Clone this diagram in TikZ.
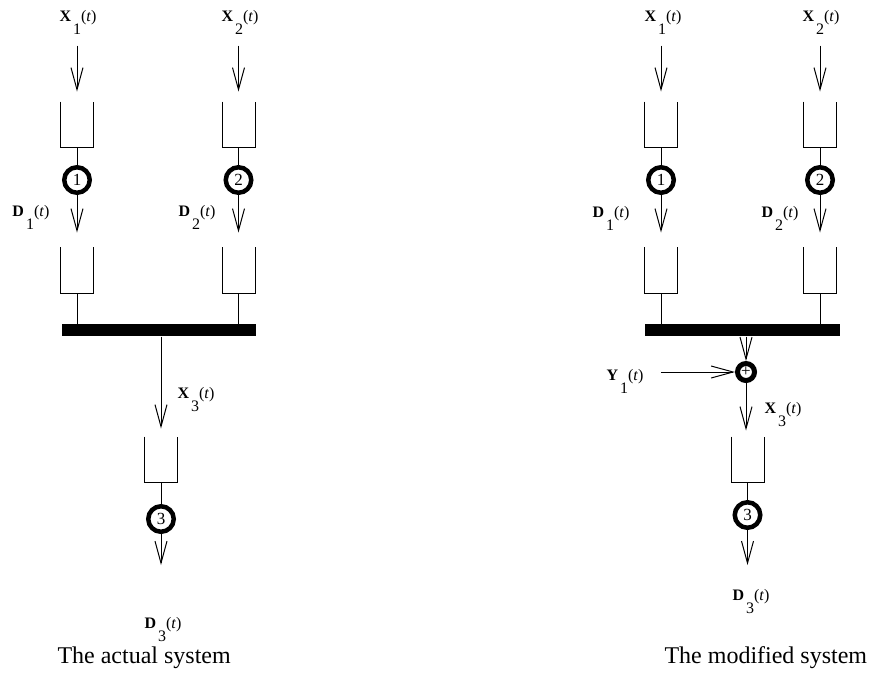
\documentclass[tikz,border=0pt]{standalone}
\usepackage{fontspec}
\setmainfont{Liberation Serif}
\usetikzlibrary{arrows.meta,positioning}
\newcommand{\sig}[2]{{\fontsize{16}{16}\selectfont\textbf{#1}}\kern2pt\raisebox{-13pt}{\fontsize{16}{16}\selectfont #2}{\fontsize{16}{16}\selectfont(\textit{t})}}

\begin{document}
\begin{tikzpicture}[x=1pt,y=-1pt,line width=1pt,
  buffer/.style={minimum width=32pt,minimum height=45pt,inner sep=0pt},
  server/.style={circle,draw,line width=4.5pt,minimum size=25.5pt,inner sep=0pt,font=\fontsize{17}{17}\selectfont},
  adder/.style={circle,draw,line width=5pt,minimum size=17pt,inner sep=0pt,font=\fontsize{17}{17}\selectfont},
  bus/.style={fill=black,minimum width=194pt,minimum height=12pt,inner sep=0pt},
  sig/.style={anchor=base west,inner sep=0pt},
  flow/.style={-{Straight Barb[length=22pt,width=12pt]}},
  caption/.style={anchor=base west,inner sep=0pt,font=\fontsize{24}{24}\selectfont}]
  \useasboundingbox (0,0) rectangle (874,673);

  % the actual system
  \node[buffer] (q1) at (77,124.5) {};
  \node[server] (s1) at (77,180) {1};
  \node[buffer] (r1) at (77,270) {};
  \node[buffer] (q2) at (238.5,124.5) {};
  \node[server] (s2) at (238.5,180) {2};
  \node[buffer] (r2) at (238.5,270) {};
  \node[bus] (b) at (159,330) {};
  \node[buffer] (q3) at (161,459.5) {};
  \node[server] (s3) at (161,519) {3};
  \coordinate (e3) at (161,565);

  \node[sig] (x1) at (59,21) {\sig{X}{1}};
  \node[sig] (x2) at (221,21) {\sig{X}{2}};
  \node[sig] (d1) at (12,216) {\sig{D}{1}};
  \node[sig] (d2) at (178,216) {\sig{D}{2}};
  \node[sig] (x3) at (177,398) {\sig{X}{3}};
  \node[sig] (d3) at (144,628) {\sig{D}{3}};

  \draw[flow,shorten <=11pt,shorten >=10pt] (q1.north |- x1.south) -- (q1.north);
  \draw[flow,shorten <=11pt,shorten >=10pt] (q2.north |- x2.south) -- (q2.north);
  \draw (q1.south) -- (s1); \draw[flow,shorten >=14.5pt] (s1) -- (r1.north);
  \draw (q2.south) -- (s2); \draw[flow,shorten >=14.5pt] (s2) -- (r2.north);
  \draw (r1.south) -- (r1.south |- b.north);
  \draw (r2.south) -- (r2.south |- b.north);
  \draw[flow,shorten >=8pt] (q3.north |- b.south) -- (q3.north);
  \draw (q3.south) -- (s3); \draw[flow] (s3) -- (e3);

  % the modified system
  \node[buffer] (mq1) at (661,124.5) {};
  \node[server] (ms1) at (661,180) {1};
  \node[buffer] (mr1) at (661,270) {};
  \node[buffer] (mq2) at (820,124.5) {};
  \node[server] (ms2) at (820,180) {2};
  \node[buffer] (mr2) at (820,270) {};
  \node[bus,minimum width=195pt] (mb) at (742.5,330) {};
  \node[adder] (sum) at (746,372) {+};
  \node[buffer] (mq3) at (747.5,459.5) {};
  \node[server] (ms3) at (747.5,515) {3};
  \coordinate (me3) at (747.5,565);

  \node[sig] (mx1) at (644,21) {\sig{X}{1}};
  \node[sig] (mx2) at (802,21) {\sig{X}{2}};
  \node[sig] (md1) at (592,217) {\sig{D}{1}};
  \node[sig] (md2) at (761,217) {\sig{D}{2}};
  \node[sig] (y1) at (606,380) {\sig{Y}{1}};
  \node[sig] (mx3) at (764,413) {\sig{X}{3}};
  \node[sig] (md3) at (732,600) {\sig{D}{3}};

  \draw[flow,shorten <=11pt,shorten >=10pt] (mq1.north |- mx1.south) -- (mq1.north);
  \draw[flow,shorten <=11pt,shorten >=10pt] (mq2.north |- mx2.south) -- (mq2.north);
  \draw (mq1.south) -- (ms1); \draw[flow,shorten >=14.5pt] (ms1) -- (mr1.north);
  \draw (mq2.south) -- (ms2); \draw[flow,shorten >=14.5pt] (ms2) -- (mr2.north);
  \draw (mr1.south) -- (mr1.south |- mb.north);
  \draw (mr2.south) -- (mr2.south |- mb.north);
  \draw[flow] (sum |- mb.south) -- (sum);
  \draw[flow,shorten <=17pt] (y1.east |- sum) -- (sum);
  \draw[flow,shorten >=6pt] (sum) -- (sum |- mq3.north);
  \draw (mq3.south) -- (ms3); \draw[flow] (ms3) -- (me3);

  \foreach \n in {q1,r1,q2,r2,q3,mq1,mr1,mq2,mr2,mq3}
    \draw (\n.north west) |- (\n.south east) -- (\n.north east);

  \node[caption] (c1) at (57,663) {The actual system};
  \node[caption] (c2) at (664,663) {The modified system};
\end{tikzpicture}
\end{document}
